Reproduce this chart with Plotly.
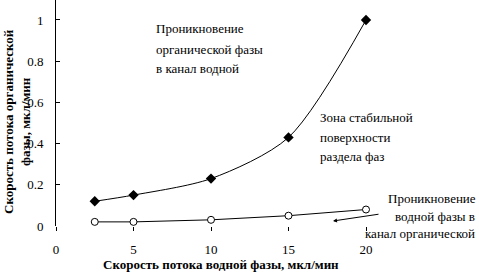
import plotly.graph_objects as go

# Data
x_flow = [2.5, 5, 10, 15, 20]
org_vals = [0.12, 0.15, 0.23, 0.43, 1.0]
water_vals = [0.02, 0.02, 0.03, 0.05, 0.08]
x_ticks = [0, 5, 10, 15, 20]
x_ticktext = ["0", "5", "10", "15", "20"]
y_ticks = [0, 0.2, 0.4, 0.6, 0.8, 1.0]
y_ticktext = ["0", "0.2", "0.4", "0.6", "0.8", "1"]

FONT = "Liberation Serif, Times New Roman, serif"

W, H = 479, 273
L, R, T, B = 56, 0, 0, 47
PW = W - L - R
PH = H - T - B
X_MAX = 27.29
Y_MAX = 1.097

def paper_x(px):
    return (px - L) / PW

def paper_y(py):
    return (T + PH - py) / PH

fig = go.Figure()
fig.add_trace(go.Scatter(
    x=x_flow, y=org_vals, mode="lines+markers",
    line=dict(color="black", width=1, shape="spline", smoothing=0.8),
    marker=dict(symbol="diamond", size=8, color="black"),
    showlegend=False, cliponaxis=False))
fig.add_trace(go.Scatter(
    x=x_flow, y=water_vals, mode="lines+markers",
    line=dict(color="black", width=1),
    marker=dict(symbol="circle", size=7, color="white", line=dict(color="black", width=1)),
    showlegend=False, cliponaxis=False))

ann = []
def txt(text, px, py, xanchor="left", size=13):
    ann.append(dict(x=paper_x(px), y=paper_y(py), xref="paper", yref="paper", text=text,
                    showarrow=False, xanchor=xanchor, yanchor="middle",
                    font=dict(family=FONT, size=size, color="black")))

txt("Проникновение", 154, 29)
txt("органической фазы", 154, 49)
txt("в канал водной", 154, 68)
txt("Зона стабильной", 318, 118)
txt("поверхности", 318, 137)
txt("раздела фаз", 318, 156)
txt("Проникновение", 478, 198, xanchor="right")
txt("водной фазы в", 477, 216, xanchor="right")
txt("канал органической", 477, 233, xanchor="right")

# arrow
ann.append(dict(x=paper_x(333), y=paper_y(221), xref="paper", yref="paper", ax=47, ay=-7,
                showarrow=True, arrowhead=2, arrowsize=0.8, arrowwidth=1, arrowcolor="black", text=""))

# axis titles
ann.append(dict(x=paper_x(221), y=paper_y(264), xref="paper", yref="paper",
                text="<b>Скорость потока водной фазы, мкл/мин</b>", showarrow=False,
                xanchor="center", yanchor="middle", font=dict(family=FONT, size=13, color="black")))
ann.append(dict(x=paper_x(17), y=paper_y(122), xref="paper", yref="paper",
                text="<b>Скорость потока органической</b><br><b>фазы, мкл/мин</b>", showarrow=False,
                textangle=-90, xanchor="center", yanchor="middle",
                font=dict(family=FONT, size=13, color="black")))

fig.update_layout(
    width=W, height=H, margin=dict(l=L, r=R, t=T, b=B),
    paper_bgcolor="white", plot_bgcolor="white",
    annotations=ann,
    xaxis=dict(range=[0, X_MAX], showgrid=False, zeroline=False, showline=False,
               tickvals=x_ticks, ticktext=x_ticktext, ticks="outside", ticklen=4, tickcolor="black",
               ticklabelstandoff=7,
               tickfont=dict(family=FONT, size=13, color="black")),
    yaxis=dict(range=[0, Y_MAX], showgrid=False, zeroline=False, showline=True, linecolor="black", linewidth=1,
               tickvals=y_ticks, ticktext=y_ticktext, ticks="inside", ticklen=4, tickcolor="black",
               ticklabelstandoff=9,
               tickfont=dict(family=FONT, size=13, color="black")),
)

fig.write_html("out.html", config={"displayModeBar": False},
               post_script="document.body.style.margin='0';document.body.style.overflow='hidden';")
